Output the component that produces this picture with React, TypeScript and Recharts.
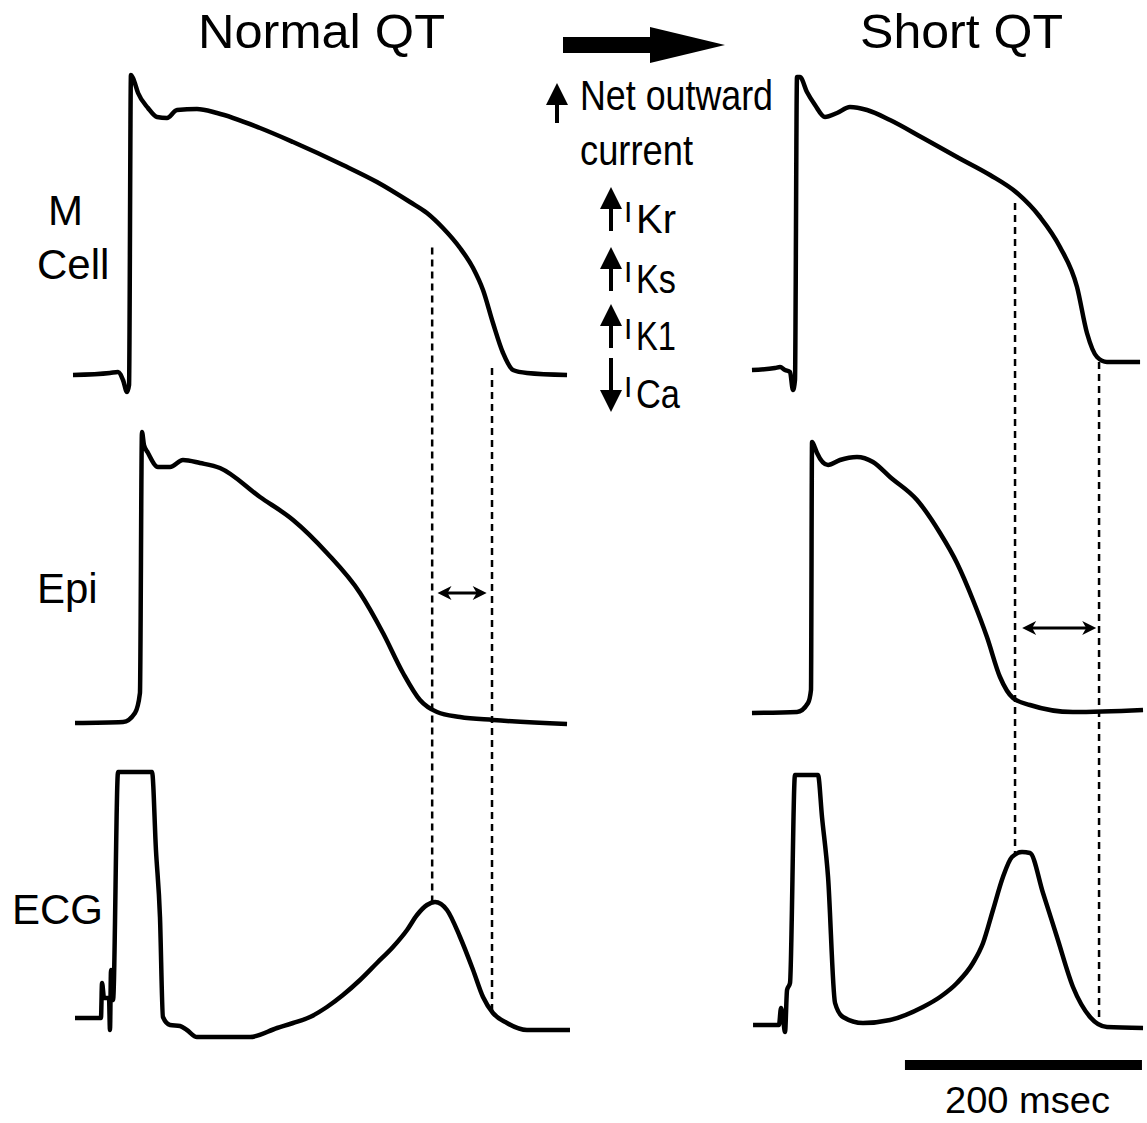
import React from 'react';
import { LineChart, Line, XAxis, YAxis, ReferenceLine } from 'recharts';

// ---------- DATA (time in ms from M-cell upstroke; APs in mV; ECG in mV) ----------
const normalMCell: [number, number][] = [
  [-48.1, -85], [-16.9, -84.2], [-10.1, -83.8], [-5.9, -87], [-2.5, -91.8], [-0.8, -89],
  [0.8, 35], [2.5, 33.8], [6.8, 27.8], [15.2, 21.8], [22.8, 18.2], [31.2, 17.8], [39.7, 21],
  [56.5, 21.4], [73.4, 19.8], [109.7, 13.8], [137.6, 8.2], [179.7, -1], [208.4, -7.8],
  [236.3, -15.8], [250.6, -20.2], [264.1, -26.2], [278.5, -34.2], [289.5, -42.2], [297.9, -51],
  [306.3, -64.2], [314.8, -76.2], [323.2, -83], [335, -84.2], [368.8, -85],
];
const normalEpi: [number, number][] = [
  [-46.4, -85], [-5.9, -84.6], [4.2, -81], [8.4, -73], [10.1, 31.4], [11.8, 26.2], [15.2, 23],
  [23.6, 17.4], [33.8, 17.4], [44.7, 20.2], [59.1, 19], [75.9, 17], [109.7, 5.4], [137.6, -3.8],
  [166.2, -17], [194.1, -33], [213.5, -49], [230.4, -65], [244.7, -75.8], [259.1, -80.6],
  [278.5, -82.6], [306.3, -83.8], [368.8, -85.4],
];
const normalEcg: [number, number][] = [
  [-46.4, 0], [-25.3, 0], [-24.5, 0], [-23.6, 0.35], [-21.9, 0.2], [-17.7, 0.2], [-16.9, -0.12],
  [-16, 0.48], [-14.3, 0.18], [-10.1, 2.46], [18.6, 2.46], [21.9, 1.68], [25.3, 1.01], [27.8, 0.01],
  [33.8, -0.07], [42.2, -0.08], [48, -0.12], [56.5, -0.19], [101.3, -0.19], [124.1, -0.1],
  [137.6, -0.05], [151.9, 0.01], [166.2, 0.11], [179.7, 0.23], [194.1, 0.38], [208.4, 0.55],
  [221.9, 0.71], [233.8, 0.88], [242.2, 1.03], [250.6, 1.13], [257.4, 1.16], [267.5, 1.08],
  [278.5, 0.81], [289.5, 0.48], [297.9, 0.21], [306.3, 0.05], [318.1, -0.05], [335, -0.12],
  [371.3, -0.12],
];
const shortMCell: [number, number][] = [
  [-38, -85], [-18.6, -84.2], [-14.3, -83.8], [-10.1, -85], [-5.9, -85.8], [-3.4, -93], [-1.7, -89],
  [0, 32.2], [2.5, 32.2], [8.4, 26.2], [15.2, 21], [23.6, 16.2], [33.8, 17.8], [44.7, 20.2],
  [59.1, 19], [78.5, 15], [106.3, 7.8], [135, 0.2], [162.9, -7], [185.7, -14.2], [205.1, -23.8],
  [221.9, -35.8], [236.3, -51.8], [244.7, -70.2], [253.2, -79.8], [261.6, -81.8], [289.5, -81.8],
];
const shortEpi: [number, number][] = [
  [-38, -85.4], [0, -85], [9.3, -81.4], [11.8, -76.2], [12.7, 23], [15.2, 20.6], [16.9, 18.6],
  [26.2, 13.8], [36.3, 15.8], [50.6, 17], [64.1, 15], [78.5, 9], [101.3, -0.2], [120.7, -13.4],
  [135, -25.4], [148.5, -40.2], [160.3, -55], [171.3, -71], [182.3, -79.4], [196.6, -82.2],
  [232.9, -85], [292, -84.2],
];
const shortEcg: [number, number][] = [
  [-37.1, 0], [-15.2, 0], [-13.5, 0.17], [-11.8, 0.07], [-10.1, -0.07], [-8.4, 0.35], [-5.9, 0.42],
  [-1.7, 2.5], [17.7, 2.5], [21.1, 2.08], [26.2, 1.48], [32.1, 0.22], [38.8, 0.08], [55.7, 0.02],
  [78.5, 0.05], [106.3, 0.18], [120.7, 0.28], [135, 0.42], [148.5, 0.62], [157, 0.82],
  [165.4, 1.15], [173.8, 1.48], [181.4, 1.68], [189.9, 1.73], [196.6, 1.72], [207.6, 1.32],
  [219.4, 0.88], [232.9, 0.38], [247.3, 0.08], [261.6, -0.02], [292, -0.03],
];

// QT markers: time (ms), M-cell potential where the dashed line starts, ECG value where it ends
const normalQTMarks = [
  { t: 255, fromM: -34, toEcg: 1.15 },
  { t: 305.5, fromM: -82.2, toEcg: 0.06 },
];
const shortQTMarks = [
  { t: 184, fromM: -18.2, toEcg: 1.72 },
  { t: 254.9, fromM: -81.8, toEcg: 0.05 },
];
// transmural dispersion arrows (Epi level, mV)
const normalDispersion = { t1: 259.5, t2: 301, v: -33 };
const shortDispersion = { t1: 190, t2: 252.5, v: -51.4 };
const scaleBarMs = 200;
const scaleBarStart = 91.1;

const currentLabels = [
  { dir: 'up', sub: 'Kr' },
  { dir: 'up', sub: 'Ks' },
  { dir: 'up', sub: 'K1' },
  { dir: 'down', sub: 'Ca' },
];

// ---------- LAYOUT ----------
const TOP = 60;
const BOTTOM = 1080;
const PX_PER_MS = 1.185;
const FONT = '"Liberation Sans", Arial, Helvetica, sans-serif';

type AxisCfg = { ref: number; px: number; k: number };
type ColLayout = { left: number; right: number; zeroPx: number; m: AxisCfg; epi: AxisCfg; ecg: AxisCfg };

const normalLayout: ColLayout = {
  left: 72, right: 572, zeroPx: 130,
  m: { ref: -85, px: 375, k: 2.5 }, epi: { ref: -85, px: 723, k: 2.5 }, ecg: { ref: 0, px: 1018, k: 100 },
};
const shortLayout: ColLayout = {
  left: 750, right: 1147, zeroPx: 797,
  m: { ref: -85, px: 370, k: 2.5 }, epi: { ref: -85, px: 712, k: 2.5 }, ecg: { ref: 0, px: 1025, k: 100 },
};

const yDomain = (a: AxisCfg): [number, number] => [a.ref - (BOTTOM - a.px) / a.k, a.ref + (a.px - TOP) / a.k];
const toPx = (a: AxisCfg, v: number) => a.px - (v - a.ref) * a.k;
const fromPx = (a: AxisCfg, px: number) => a.ref + (a.px - px) / a.k;
const pts = (arr: [number, number][]) => arr.map(([t, v]) => ({ t, v }));

const DoubleArrow = (p: any) => {
  const { x1, y1, x2, y2 } = p;
  const h = 14;
  const w = 7;
  return (
    <g>
      <line x1={x1 + 6} y1={y1} x2={x2 - 6} y2={y2} stroke="#000" strokeWidth={3} />
      <polygon points={`${x1},${y1} ${x1 + h},${y1 - w} ${x1 + h - 4},${y1} ${x1 + h},${y1 + w}`} fill="#000" />
      <polygon points={`${x2},${y2} ${x2 - h},${y2 - w} ${x2 - h + 4},${y2} ${x2 - h},${y2 + w}`} fill="#000" />
    </g>
  );
};

type PanelProps = {
  layout: ColLayout;
  m: [number, number][];
  epi: [number, number][];
  ecg: [number, number][];
  marks: { t: number; fromM: number; toEcg: number }[];
  disp: { t1: number; t2: number; v: number };
  scaleBar?: boolean;
};

const Panel = ({ layout, m, epi, ecg, marks, disp, scaleBar }: PanelProps) => {
  const width = layout.right - layout.left;
  const height = BOTTOM - TOP;
  const xDom: [number, number] = [
    (layout.left - layout.zeroPx) / PX_PER_MS,
    (layout.right - layout.zeroPx) / PX_PER_MS,
  ];
  const lineProps = {
    type: 'monotone' as const,
    dataKey: 'v',
    stroke: '#000',
    strokeWidth: 4.5,
    dot: false,
    activeDot: false,
    isAnimationActive: false,
    strokeLinejoin: 'round' as const,
  };
  return (
    <div style={{ position: 'absolute', left: layout.left, top: TOP }}>
      <LineChart width={width} height={height} margin={{ top: 0, right: 0, bottom: 0, left: 0 }}>
        <XAxis type="number" dataKey="t" domain={xDom} hide allowDataOverflow />
        <YAxis yAxisId="m" type="number" domain={yDomain(layout.m)} hide allowDataOverflow />
        <YAxis yAxisId="epi" type="number" domain={yDomain(layout.epi)} hide allowDataOverflow />
        <YAxis yAxisId="ecg" type="number" domain={yDomain(layout.ecg)} hide allowDataOverflow />
        {marks.map((mk, i) => (
          <ReferenceLine
            key={i}
            yAxisId="m"
            ifOverflow="visible"
            segment={[
              { x: mk.t, y: mk.fromM },
              { x: mk.t, y: fromPx(layout.m, toPx(layout.ecg, mk.toEcg)) },
            ]}
            stroke="#000"
            strokeWidth={2.5}
            strokeDasharray="7 5"
          />
        ))}
        <Line {...lineProps} yAxisId="m" data={pts(m)} name="M cell" />
        <Line {...lineProps} yAxisId="epi" data={pts(epi)} name="Epi" />
        <Line {...lineProps} yAxisId="ecg" data={pts(ecg)} name="ECG" />
        <ReferenceLine
          yAxisId="epi"
          ifOverflow="visible"
          segment={[{ x: disp.t1, y: disp.v }, { x: disp.t2, y: disp.v }]}
          shape={DoubleArrow}
        />
        {scaleBar && (
          <ReferenceLine
            yAxisId="ecg"
            ifOverflow="visible"
            segment={[{ x: scaleBarStart, y: -0.4 }, { x: scaleBarStart + scaleBarMs, y: -0.4 }]}
            stroke="#000"
            strokeWidth={10}
          />
        )}
      </LineChart>
    </div>
  );
};

const UpArrow = ({ x, top, bottom }: { x: number; top: number; bottom: number }) => (
  <g>
    <line x1={x} y1={top + 15} x2={x} y2={bottom} stroke="#000" strokeWidth={4} />
    <polygon points={`${x - 11},${top + 22} ${x},${top} ${x + 11},${top + 22}`} fill="#000" />
  </g>
);
const DownArrow = ({ x, top, bottom }: { x: number; top: number; bottom: number }) => (
  <g>
    <line x1={x} y1={top} x2={x} y2={bottom - 15} stroke="#000" strokeWidth={4} />
    <polygon points={`${x - 11},${bottom - 22} ${x},${bottom} ${x + 11},${bottom - 22}`} fill="#000" />
  </g>
);

const rowBaselines = [233, 293, 350, 408];

export default function App() {
  return (
    <div style={{ position: 'absolute', left: 0, top: 0, width: 1147, height: 1123, background: '#fff', overflow: 'hidden' }}>
      <Panel layout={normalLayout} m={normalMCell} epi={normalEpi} ecg={normalEcg} marks={normalQTMarks} disp={normalDispersion} />
      <Panel layout={shortLayout} m={shortMCell} epi={shortEpi} ecg={shortEcg} marks={shortQTMarks} disp={shortDispersion} scaleBar />
      <svg width={1147} height={1123} style={{ position: 'absolute', left: 0, top: 0, pointerEvents: 'none' }} fontFamily={FONT}>
        <text x={198} y={48} fontSize={49} textLength={247} lengthAdjust="spacingAndGlyphs">Normal QT</text>
        <text x={860} y={48} fontSize={49} textLength={203} lengthAdjust="spacingAndGlyphs">Short QT</text>
        {/* big arrow */}
        <rect x={563} y={37} width={88} height={16} fill="#000" />
        <polygon points="650,27 725,45 650,63" fill="#000" />
        {/* row labels */}
        <text x={48} y={225} fontSize={42}>M</text>
        <text x={37} y={279} fontSize={42}>Cell</text>
        <text x={37} y={603} fontSize={42}>Epi</text>
        <text x={12} y={924} fontSize={42}>ECG</text>
        {/* ionic current annotation */}
        <UpArrow x={557} top={83} bottom={123} />
        <text x={580} y={110} fontSize={42} textLength={193} lengthAdjust="spacingAndGlyphs">Net outward</text>
        <text x={580} y={165} fontSize={42} textLength={113} lengthAdjust="spacingAndGlyphs">current</text>
        {currentLabels.map((c, i) => {
          const b = rowBaselines[i];
          return (
            <g key={c.sub}>
              {c.dir === 'up' ? (
                <UpArrow x={611} top={b - 46} bottom={b - 2} />
              ) : (
                <DownArrow x={611} top={b - 50} bottom={b + 4} />
              )}
              <text x={624} y={b - 11} fontSize={30}>I</text>
              <text x={636} y={b} fontSize={40} textLength={c.sub === 'Ca' ? 44 : 40} lengthAdjust="spacingAndGlyphs">{c.sub}</text>
            </g>
          );
        })}
        <text x={945} y={1113} fontSize={36} textLength={165} lengthAdjust="spacingAndGlyphs">200 msec</text>
      </svg>
    </div>
  );
}
